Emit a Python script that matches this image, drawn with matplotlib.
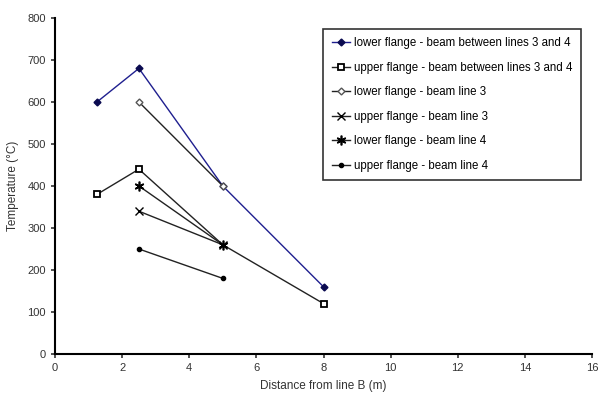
import matplotlib
matplotlib.use("Agg")
import matplotlib.pyplot as plt

plt.rcParams['font.family'] = ['Liberation Sans', 'DejaVu Sans']

# series data (distance m, temperature C)
x_low_34 = [1.25, 2.5, 5, 8]
y_low_34 = [600, 680, 400, 160]
x_up_34 = [1.25, 2.5, 5, 8]
y_up_34 = [380, 440, 260, 120]
x_low_3 = [2.5, 5]
y_low_3 = [600, 400]
x_up_3 = [2.5, 5]
y_up_3 = [340, 260]
x_low_4 = [2.5, 5]
y_low_4 = [400, 260]
x_up_4 = [2.5, 5]
y_up_4 = [250, 180]

fig = plt.figure(figsize=(5.98, 3.98), dpi=100)
ax = fig.add_axes([55/598, 1-354/398, 537/598, 336/398])

ax.plot(x_low_34, y_low_34, color='#1f1f8f', lw=1, marker='D', ms=3.5,
        mfc='#0a0a50', mec='#0a0a50', label='lower flange - beam between lines 3 and 4')
ax.plot(x_up_34, y_up_34, color='#222222', lw=1, marker='s', ms=4.5,
        mfc='white', mec='black', mew=1.3, markevery=[0, 1, 3],
        label='upper flange - beam between lines 3 and 4')
ax.plot(x_low_3, y_low_3, color='#222222', lw=1, marker='D', ms=3.5,
        mfc='white', mec='#555555', label='lower flange - beam line 3')
ax.plot(x_up_3, y_up_3, color='#222222', lw=1, marker='x', ms=6,
        mec='black', mew=1, label='upper flange - beam line 3')
ax.plot(x_low_4, y_low_4, color='#222222', lw=1, marker=(6, 2, 0), ms=7,
        mec='black', mew=1.2, label='lower flange - beam line 4')
ax.plot(x_up_4, y_up_4, color='#222222', lw=1, marker='o', ms=3,
        mfc='black', mec='black', label='upper flange - beam line 4')

ax.set_xlim(0, 16)
ax.set_ylim(0, 800)
ax.set_xticks(range(0, 17, 2))
ax.set_yticks(range(0, 801, 100))
for s in ['top', 'right']:
    ax.spines[s].set_visible(False)
for s in ['left', 'bottom']:
    ax.spines[s].set_linewidth(1.5)
ax.tick_params(direction='out', length=3, width=1.2, labelsize=8, colors='#333333')
ax.set_xlabel('Distance from line B (m)', fontsize=8.5, color='#333333', labelpad=5)
ax.set_ylabel('Temperature (°C)', fontsize=8.5, color='#333333', labelpad=6)

leg = ax.legend(loc='upper right', bbox_to_anchor=(0.99, 0.985), fontsize=8.3,
                frameon=True, fancybox=False, edgecolor='black',
                handlelength=1.6, handletextpad=0.3, labelspacing=1.08,
                borderpad=0.75)
leg.get_frame().set_linewidth(1.2)

fig.savefig('out.png', dpi=100)
